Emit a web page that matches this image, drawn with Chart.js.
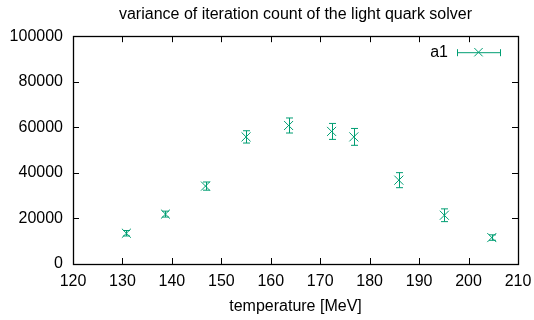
<!DOCTYPE html>
<html>
<head>
<meta charset="utf-8">
<title>variance of iteration count</title>
<script src="https://cdn.jsdelivr.net/npm/chart.js@4.4.1/dist/chart.umd.min.js"></script>
<style>
  html, body { margin: 0; padding: 0; background: #fff; }
  #wrap { width: 534px; height: 320px; }
</style>
</head>
<body>
<div id="wrap"><canvas id="plot"></canvas></div>
<script>
// temperature [MeV], variance and its error for run a1
const temps    = [130.8, 138.7, 146.8, 155.0, 163.6, 172.3, 176.8, 185.9, 195.1, 204.7];
const variance = [13500, 21900, 34200, 55800, 60800, 58200, 55800, 36800, 21400, 11600];
const errors   = [1200, 1300, 1800, 2700, 3300, 3500, 3700, 3300, 2800, 1200];
const xTicks   = [120, 130, 140, 150, 160, 170, 180, 190, 200, 210];
const yTicks   = [0, 20000, 40000, 60000, 80000, 100000];
const seriesName = 'a1';

const GREEN = '#009e73';
const FONT = 'Liberation Sans, Arial, Helvetica, sans-serif';
const FS = 16;

/* ── gnuplot-ish frame: border, inward ticks on all sides, error bars, key ── */
const gnuFrame = {
  id: 'gnuFrame',
  afterDatasetsDraw(chart) {
    const { ctx, chartArea: a, scales: { x, y } } = chart;
    const tl = 6;
    ctx.save();

    // error bars
    ctx.strokeStyle = GREEN;
    ctx.lineWidth = 1;
    temps.forEach((t, i) => {
      const px = Math.round(x.getPixelForValue(t)) + 0.5;
      const y1 = y.getPixelForValue(variance[i] + errors[i]);
      const y0 = y.getPixelForValue(variance[i] - errors[i]);
      ctx.beginPath();
      ctx.moveTo(px, y0); ctx.lineTo(px, y1);
      ctx.moveTo(px - 3.5, y1); ctx.lineTo(px + 3.5, y1);
      ctx.moveTo(px - 3.5, y0); ctx.lineTo(px + 3.5, y0);
      ctx.stroke();
    });

    // ticks
    ctx.strokeStyle = '#000';
    ctx.lineWidth = 1;
    ctx.beginPath();
    xTicks.forEach(v => {
      const px = Math.round(x.getPixelForValue(v)) + 0.5;
      ctx.moveTo(px, a.bottom); ctx.lineTo(px, a.bottom - tl);
      ctx.moveTo(px, a.top); ctx.lineTo(px, a.top + tl);
    });
    yTicks.forEach(v => {
      const py = Math.round(y.getPixelForValue(v)) + 0.5;
      ctx.moveTo(a.left, py); ctx.lineTo(a.left + tl, py);
      ctx.moveTo(a.right, py); ctx.lineTo(a.right - tl, py);
    });
    ctx.stroke();

    // border
    ctx.lineWidth = 1.3;
    ctx.strokeRect(Math.round(a.left) + 0.5, Math.round(a.top) + 0.5,
                   Math.round(a.right - a.left), Math.round(a.bottom - a.top));

    // key
    const ky = a.top + 16;
    const kx0 = a.right - 61, kx1 = a.right - 18;
    ctx.fillStyle = '#000';
    ctx.font = FS + 'px ' + FONT;
    ctx.textAlign = 'right';
    ctx.textBaseline = 'middle';
    ctx.fillText(seriesName, kx0 - 9, ky);
    ctx.strokeStyle = GREEN;
    ctx.lineWidth = 1;
    ctx.beginPath();
    ctx.moveTo(kx0, ky + 0.5); ctx.lineTo(kx1, ky + 0.5);
    ctx.moveTo(kx0 + 0.5, ky - 3); ctx.lineTo(kx0 + 0.5, ky + 4);
    ctx.moveTo(kx1 + 0.5, ky - 3); ctx.lineTo(kx1 + 0.5, ky + 4);
    const kc = (kx0 + kx1) / 2, d = 4.2;
    ctx.moveTo(kc - d, ky - d); ctx.lineTo(kc + d, ky + d);
    ctx.moveTo(kc - d, ky + d); ctx.lineTo(kc + d, ky - d);
    ctx.stroke();

    ctx.restore();
  }
};

new Chart(document.getElementById('plot'), {
  type: 'scatter',
  data: {
    datasets: [{
      label: seriesName,
      data: temps.map((t, i) => ({ x: t, y: variance[i] })),
      pointStyle: 'crossRot',
      pointRadius: 6.4,
      pointBorderWidth: 1,
      borderColor: GREEN,
      backgroundColor: GREEN,
      showLine: false
    }]
  },
  plugins: [gnuFrame],
  options: {
    responsive: true,
    maintainAspectRatio: false,
    animation: false,
    layout: { padding: { left: 0, right: 16, top: 0, bottom: 0 } },
    plugins: {
      legend: { display: false },
      tooltip: { enabled: false },
      title: {
        display: true,
        fullSize: false,
        text: 'variance of iteration count of the light quark solver',
        color: '#000',
        font: { family: FONT, size: FS, weight: 'normal' },
        padding: { top: 5, bottom: 12 }
      }
    },
    scales: {
      x: {
        type: 'linear',
        min: 120, max: 210,
        afterBuildTicks: s => { s.ticks = xTicks.map(v => ({ value: v })); },
        afterFit: s => { s.height = 56; s.paddingLeft = 0; s.paddingRight = 0; },
        grid: { display: false, drawTicks: false },
        border: { display: false },
        ticks: { color: '#000', padding: 8, maxRotation: 0, font: { family: FONT, size: FS } },
        title: {
          display: true,
          text: 'temperature [MeV]',
          color: '#000',
          font: { family: FONT, size: FS },
          padding: { top: 0, bottom: 4 }
        }
      },
      y: {
        type: 'linear',
        min: 0, max: 100000,
        afterBuildTicks: s => { s.ticks = yTicks.map(v => ({ value: v })); },
        afterFit: s => { s.width = 73; s.paddingTop = 0; s.paddingBottom = 0; },
        grid: { display: false, drawTicks: false },
        border: { display: false },
        ticks: { color: '#000', padding: 10, callback: v => String(v), font: { family: FONT, size: FS } }
      }
    }
  }
});
</script>
</body>
</html>
